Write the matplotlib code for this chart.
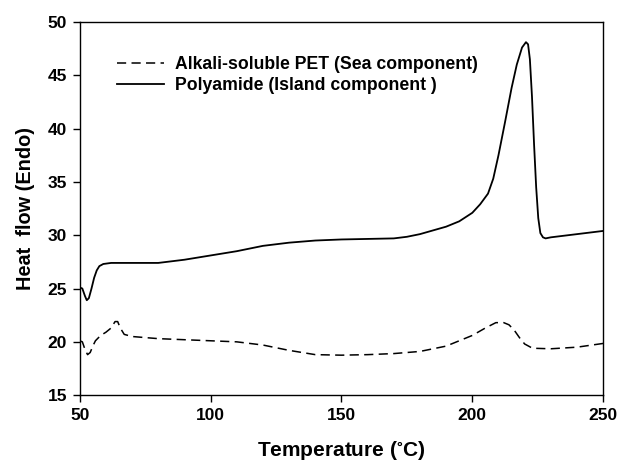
import matplotlib
matplotlib.use("Agg")
import matplotlib.pyplot as plt
import numpy as np

plt.rcParams["font.family"] = ["Liberation Sans", "DejaVu Sans"]
plt.rcParams["font.weight"] = "bold"
plt.rcParams["mathtext.default"] = "regular"

# Polyamide (Island component) - solid line
pa_temp = [50, 51, 52, 52.7, 53.5, 54.5, 55.5, 56.5, 57.5, 59, 62, 70, 80, 90, 100,
           110, 120, 130, 140, 150, 160, 170, 175, 180, 190, 195, 200, 203, 206, 208,
           210, 212.5, 215, 217, 219, 220.5, 221.3, 222, 222.8, 223.6, 224.4, 225.2,
           226, 227, 228, 230, 240, 250]
pa_flow = [25.1, 25.0, 24.3, 23.9, 24.1, 25.0, 26.0, 26.7, 27.1, 27.3, 27.4, 27.4,
           27.4, 27.7, 28.1, 28.5, 29.0, 29.3, 29.5, 29.6, 29.65, 29.7, 29.85, 30.1,
           30.8, 31.3, 32.1, 32.9, 33.9, 35.3, 37.5, 40.6, 43.8, 46.0, 47.6, 48.1,
           47.9, 46.5, 43.0, 38.5, 34.5, 31.6, 30.2, 29.8, 29.7, 29.8, 30.1, 30.4]

# Alkali-soluble PET (Sea component) - dashed line
pet_temp = [50, 51, 52, 53, 54, 55, 56, 58, 60, 62, 63.5, 64.5, 65.5, 67, 70, 80, 90,
            100, 110, 120, 130, 140, 150, 160, 170, 180, 190, 200, 205, 209, 212, 214,
            216, 218, 220, 223, 230, 240, 250]
pet_flow = [20.1, 20.0, 19.3, 18.8, 19.0, 19.6, 20.1, 20.6, 20.9, 21.3, 21.9, 21.9,
            21.3, 20.7, 20.5, 20.3, 20.2, 20.1, 20.0, 19.7, 19.2, 18.8, 18.75, 18.8,
            18.9, 19.1, 19.6, 20.6, 21.3, 21.8, 21.8, 21.6, 21.1, 20.4, 19.8, 19.4,
            19.35, 19.5, 19.85]

x_ticks = [50, 100, 150, 200, 250]
y_ticks = [15, 20, 25, 30, 35, 40, 45, 50]

fig = plt.figure(figsize=(6.18, 4.66), dpi=100)
ax = fig.add_axes([0.129, 0.152, 0.847, 0.801])

ax.plot(pet_temp, pet_flow, color="black", linewidth=1.1, linestyle=(0, (6, 3.5)),
        label="Alkali-soluble PET (Sea component)")
ax.plot(pa_temp, pa_flow, color="black", linewidth=1.3, linestyle="-",
        label="Polyamide (Island component )")

ax.set_xlim(50, 250)
ax.set_ylim(15, 50)
ax.set_xticks(x_ticks)
ax.set_yticks(y_ticks)
ax.tick_params(axis="both", which="major", direction="out", length=5, width=1,
               labelsize=12.5, pad=4)
ax.tick_params(top=False, right=False)
for lbl in ax.get_xticklabels() + ax.get_yticklabels():
    lbl.set_fontweight("bold")
for sp in ax.spines.values():
    sp.set_linewidth(1)

ax.set_xlabel(r"Temperature ($^{\circ}$C)", fontsize=15, fontweight="bold", labelpad=12)
ax.set_ylabel("Heat  flow (Endo)", fontsize=14.3, fontweight="bold", labelpad=9)

leg = ax.legend(loc="upper left", bbox_to_anchor=(0.04, 0.95), frameon=False,
                handlelength=2.7, handletextpad=0.6, labelspacing=0.2,
                prop={"size": 12.7, "weight": "bold"})

fig.savefig("out.png", dpi=100)
